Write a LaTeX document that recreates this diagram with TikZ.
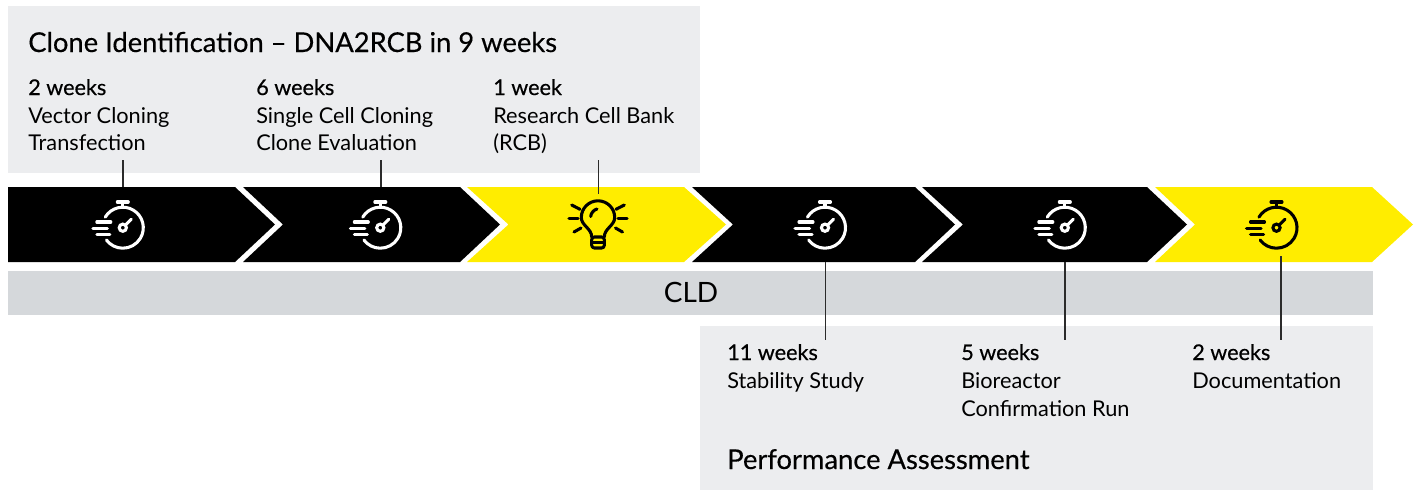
\documentclass[tikz,border=0pt]{standalone}
\usepackage{fontspec}
\setmainfont{Lato}
\newfontfamily\medfont[FakeBold=0.6]{Lato}
\newfontfamily\headfont[FakeBold=0.35]{Lato}
\definecolor{ybl}{HTML}{FFED00}
\definecolor{panel}{HTML}{ECEDEF}
\definecolor{barg}{HTML}{D5D8DB}
\definecolor{linec}{HTML}{2B2B2B}
\newcommand{\bodyfs}{\fontsize{16.3}{20}\selectfont}
\tikzset{
  lbl/.style={anchor=base west,inner sep=0pt,text=black,font=\bodyfs},
  wk/.style={lbl,font=\fontsize{16.2}{20}\selectfont\medfont},
  head/.style={anchor=base west,inner sep=0pt,text=black,font=\fontsize{20.5}{24}\selectfont\headfont},
  conn/.style={draw=linec,line width=1.1pt},
  watch/.pic={
    \begin{scope}[line width=2.3pt,line cap=round]
    \draw (0,0) circle (3.6);
    \draw (2.6,-2.6) -- (8.6,-8.6);
    \draw (-17.57,-10.56) arc (211:503:20.5);
    \draw (0,-20.5) -- (0,-25.5);
    \draw (-5.5,-25.7) -- (5.5,-25.7);
    \draw (-26,-5.7) -- (-12,-5.7);
    \draw (-30,0.6) -- (-15.5,0.6);
    \draw (-26,7) -- (-13,7);
    \end{scope}
  },
  bulb/.pic={
    \begin{scope}[line width=2.3pt,line cap=round,line join=round]
    \draw (-6.3,19.5) .. controls (-6.3,11) and (-16.7,8) .. (-16.7,0) arc (180:360:16.7) .. controls (16.7,8) and (6.3,11) .. (6.3,19.5);
    \draw[rounded corners=2pt] (-6.3,19.5) -- (-6.3,30.5) -- (6.3,30.5) -- (6.3,19.5) -- cycle;
    \draw (-6.3,25) -- (6.3,25);
    \draw (-7.3,-1) .. controls (-7.3,-4) and (-4,-8) .. (-1,-8.5);
    \draw (-29,1.2) -- (-20,1.2);
    \draw (20,1.2) -- (29,1.2);
    \draw (-26.3,-12.5) -- (-18,-8.2);
    \draw (26.3,-12.5) -- (18,-8.2);
    \draw (-24,14.5) -- (-17,10.5);
    \draw (24.5,14.5) -- (17.5,10.5);
    \end{scope}
  }
}
\newcommand{\arrowshape}[5]{% colour, left, notch(0=none), right, tip
  \fill[#1] (#2,187) -- (#4,187) -- (#5,224.5) -- (#4,262) -- (#2,262)
    \ifx&#3&\else -- (#3,224.5) \fi -- cycle;}
\begin{document}
\begin{tikzpicture}[x=0.75pt,y=-0.75pt]
\useasboundingbox (0,0) rectangle (1420,490);
\fill[panel] (8,6) rectangle (700,173);
\fill[panel] (700,326) rectangle (1373,490);
\fill[barg] (8,271) rectangle (1373,315);
\arrowshape{black}{8}{}{235}{275}
\arrowshape{black}{243}{283}{460}{500}
\arrowshape{ybl}{467}{508.5}{684}{726}
\arrowshape{black}{692}{733}{915}{955}
\arrowshape{black}{922}{963}{1147}{1187}
\arrowshape{ybl}{1155}{1195}{1372}{1413}
\pic[white] at (122.8,227.7) {watch};
\pic[white] at (380.3,227.7) {watch};
\pic[black] at (598,217.5) {bulb};
\pic[white] at (825,227.7) {watch};
\pic[white] at (1064.8,227.7) {watch};
\pic[black] at (1276.5,227.7) {watch};
\node[head] (title) at (28,52) {Clone Identification – DNA2RCB in 9 weeks};
\node[wk] (a1) at (28,95) {2 weeks};
\node[lbl] (a2) at (28,123) {Vector Cloning};
\node[lbl] (a3) at (28,150) {Transfection};
\node[wk] (b1) at (256,95) {6 weeks};
\node[lbl] (b2) at (256,123) {Single Cell Cloning};
\node[lbl] (b3) at (256,150) {Clone Evaluation};
\node[wk] (c1) at (493,95) {1 week};
\node[lbl] (c2) at (493,123) {Research Cell Bank};
\node[lbl] (c3) at (493,150) {(RCB)};
\node[anchor=base,inner sep=0pt,font=\fontsize{21}{24}\selectfont] (cld) at (691,302) {CLD};
\node[wk] (d1) at (727,360) {11 weeks};
\node[lbl] (d2) at (727,388) {Stability Study};
\node[wk] (e1) at (961,360) {5 weeks};
\node[lbl] (e2) at (961,388) {Bioreactor};
\node[lbl] (e3) at (961,416) {Confirmation Run};
\node[wk] (f1) at (1192,360) {2 weeks};
\node[lbl] (f2) at (1192,388) {Documentation};
\node[head] (perf) at (727,469) {Performance Assessment};
\coordinate (p1a) at (123,160); \coordinate (p1b) at (123,187);
\coordinate (p2a) at (381,160); \coordinate (p2b) at (381,187);
\coordinate (p3a) at (598.5,160); \coordinate (p3b) at (598.5,194);
\coordinate (p4a) at (825.5,262); \coordinate (p4b) at (825.5,340);
\coordinate (p5a) at (1065,262); \coordinate (p5b) at (1065,340);
\coordinate (p6a) at (1281,256); \coordinate (p6b) at (1281,340);
\draw[conn] (p1a) -- (p1b);
\draw[conn] (p2a) -- (p2b);
\draw[conn] (p3a) -- (p3b);
\draw[conn] (p4a) -- (p4b);
\draw[conn] (p5a) -- (p5b);
\draw[conn] (p6a) -- (p6b);
\end{tikzpicture}
\end{document}
